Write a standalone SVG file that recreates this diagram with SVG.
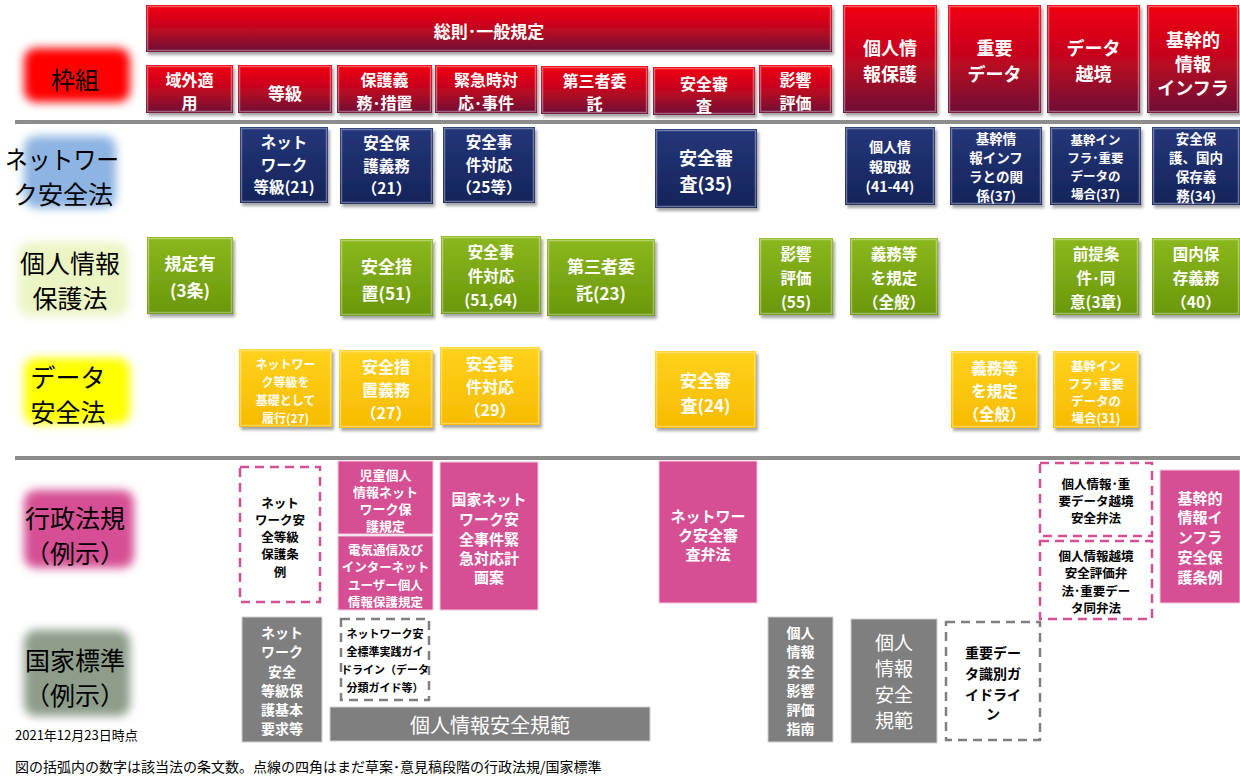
<svg xmlns="http://www.w3.org/2000/svg" width="1240" height="778" viewBox="0 0 1240 778">
<defs>
<linearGradient id="gRed" x1="0" y1="0" x2="0" y2="1"><stop offset="0" stop-color="#f2000f"/><stop offset="0.45" stop-color="#c8061e"/><stop offset="1" stop-color="#6e0c36"/></linearGradient>
<linearGradient id="gNavy" x1="0" y1="0" x2="0" y2="1"><stop offset="0" stop-color="#24367a"/><stop offset="1" stop-color="#15245a"/></linearGradient>
<linearGradient id="gGreen" x1="0" y1="0" x2="0" y2="1"><stop offset="0" stop-color="#8bb81d"/><stop offset="1" stop-color="#6a970a"/></linearGradient>
<linearGradient id="gYellow" x1="0" y1="0" x2="0" y2="1"><stop offset="0" stop-color="#ffd21c"/><stop offset="1" stop-color="#f7bb00"/></linearGradient>
<filter id="ds" x="-10%" y="-10%" width="125%" height="125%"><feDropShadow dx="2" dy="3" stdDeviation="1.5" flood-color="#000" flood-opacity="0.35"/></filter>
<filter id="glow" x="-40%" y="-40%" width="180%" height="180%"><feGaussianBlur stdDeviation="5"/></filter>
<style>
.red{fill:url(#gRed);filter:url(#ds)}
.navy{fill:url(#gNavy);filter:url(#ds)}
.green{fill:url(#gGreen);filter:url(#ds)}
.yellow{fill:url(#gYellow);filter:url(#ds)}
.pink{fill:#d64f94;stroke:#f4c9de;stroke-width:1}
.gray{fill:#7f7f7f;stroke:#d0d0d0;stroke-width:1}
.dp{fill:#fff;stroke:#d64f94;stroke-width:2.5;stroke-dasharray:9 6}
.dg{fill:#fff;stroke:#7f7f7f;stroke-width:2.5;stroke-dasharray:9 6}
.hl{fill:none;stroke:#fff;stroke-opacity:0.35;stroke-width:1.5}
.tw{font-family:"Noto Sans CJK JP","Noto Sans CJK SC",sans-serif;font-weight:700;fill:#fff;text-anchor:middle;dominant-baseline:central}
.tb{font-family:"Noto Sans CJK JP","Noto Sans CJK SC",sans-serif;font-weight:700;fill:#000;text-anchor:middle;dominant-baseline:central}
.tn{font-family:"Noto Sans CJK JP","Noto Sans CJK SC",sans-serif;font-weight:400;fill:#fff;text-anchor:middle;dominant-baseline:central}
.lbl{font-family:"Noto Sans CJK JP","Noto Sans CJK SC",sans-serif;font-weight:400;fill:#000;text-anchor:middle;dominant-baseline:central;font-size:25px}
.note{font-family:"Noto Sans CJK JP","Noto Sans CJK SC",sans-serif;font-weight:400;fill:#000}
.sep{stroke:#8c8c8c;stroke-width:4}
</style>
</defs>
<rect width="1240" height="778" fill="#fff"/>

<!-- row labels -->
<g id="label-frame"><rect x="24" y="48" width="106" height="54" rx="12" fill="#ff0000" filter="url(#glow)"/><text class="lbl" x="75" y="78" style="font-size:24px">枠組</text></g>
<g id="label-net"><rect x="24" y="136" width="92" height="72" rx="12" fill="#8db4e2" filter="url(#glow)"/><text class="lbl"><tspan x="62" y="158" textLength="114" lengthAdjust="spacingAndGlyphs">ネットワー</tspan><tspan x="63" y="193">ク安全法</tspan></text></g>
<g id="label-pi"><rect x="18" y="242" width="110" height="74" rx="12" fill="#ebf5c4" filter="url(#glow)"/><text class="lbl"><tspan x="70" y="262">個人情報</tspan><tspan x="70" y="297">保護法</tspan></text></g>
<g id="label-data"><rect x="24" y="358" width="106" height="66" rx="12" fill="#ffff00" filter="url(#glow)"/><text class="lbl"><tspan x="68" y="376">データ</tspan><tspan x="68" y="411">安全法</tspan></text></g>
<g id="label-admin"><rect x="24" y="490" width="110" height="78" rx="12" fill="#d64f94" filter="url(#glow)"/><text class="lbl"><tspan x="75" y="517">行政法規</tspan><tspan x="75" y="552">（例示）</tspan></text></g>
<g id="label-std"><rect x="24" y="630" width="106" height="86" rx="12" fill="#8d9d8a" filter="url(#glow)"/><text class="lbl"><tspan x="75" y="659">国家標準</tspan><tspan x="75" y="694">（例示）</tspan></text></g>

<!-- separators -->
<g id="connectors">
<line class="sep" x1="15" y1="122" x2="1240" y2="122"/>
<line class="sep" x1="15" y1="458" x2="1240" y2="458"/>
</g>

<!-- header row -->
<g id="h-general"><rect class="red" x="146" y="5" width="686" height="47"/><rect class="hl" x="147.5" y="6.5" width="683" height="44"/><text class="tw" x="489" y="30" font-size="17">総則･一般規定</text></g>
<g id="h-extra"><rect class="red" x="146" y="65" width="87" height="48"/><rect class="hl" x="147.5" y="66.5" width="84" height="45"/><text class="tw" font-size="16"><tspan x="189.5" y="79">域外適</tspan><tspan x="189.5" y="102">用</tspan></text></g>
<g id="h-grade"><rect class="red" x="238" y="65" width="94" height="48"/><rect class="hl" x="239.5" y="66.5" width="91" height="45"/><text class="tw" x="285" y="92" font-size="17">等級</text></g>
<g id="h-protect"><rect class="red" x="337" y="65" width="95" height="48"/><rect class="hl" x="338.5" y="66.5" width="92" height="45"/><text class="tw" font-size="16"><tspan x="384.5" y="79">保護義</tspan><tspan x="384.5" y="102">務･措置</tspan></text></g>
<g id="h-emerg"><rect class="red" x="435" y="65" width="102" height="48"/><rect class="hl" x="436.5" y="66.5" width="99" height="45"/><text class="tw" font-size="16"><tspan x="486" y="79">緊急時対</tspan><tspan x="486" y="102">応･事件</tspan></text></g>
<g id="h-third"><rect class="red" x="541" y="66" width="107" height="48"/><rect class="hl" x="542.5" y="67.5" width="104" height="45"/><text class="tw" font-size="16"><tspan x="594.5" y="80">第三者委</tspan><tspan x="594.5" y="103">託</tspan></text></g>
<g id="h-review"><rect class="red" x="653" y="67" width="102" height="48"/><rect class="hl" x="654.5" y="68.5" width="99" height="45"/><text class="tw" font-size="16"><tspan x="704" y="83">安全審</tspan><tspan x="704" y="105">査</tspan></text></g>
<g id="h-impact"><rect class="red" x="759" y="65" width="73" height="48"/><rect class="hl" x="760.5" y="66.5" width="70" height="45"/><text class="tw" font-size="16"><tspan x="795.5" y="79">影響</tspan><tspan x="795.5" y="102">評価</tspan></text></g>
<g id="h-pi"><rect class="red" x="843" y="5" width="94" height="108"/><rect class="hl" x="844.5" y="6.5" width="91" height="105"/><text class="tw" font-size="18"><tspan x="890" y="47">個人情</tspan><tspan x="890" y="73">報保護</tspan></text></g>
<g id="h-important"><rect class="red" x="948" y="5" width="93" height="108"/><rect class="hl" x="949.5" y="6.5" width="90" height="105"/><text class="tw" font-size="18"><tspan x="994.5" y="47">重要</tspan><tspan x="994.5" y="73">データ</tspan></text></g>
<g id="h-cross"><rect class="red" x="1047" y="5" width="93" height="108"/><rect class="hl" x="1048.5" y="6.5" width="90" height="105"/><text class="tw" font-size="18"><tspan x="1093.5" y="47">データ</tspan><tspan x="1093.5" y="73">越境</tspan></text></g>
<g id="h-infra"><rect class="red" x="1147" y="5" width="92" height="108"/><rect class="hl" x="1148.5" y="6.5" width="89" height="105"/><text class="tw" font-size="18"><tspan x="1193" y="39">基幹的</tspan><tspan x="1193" y="63">情報</tspan><tspan x="1193" y="87">インフラ</tspan></text></g>

<!-- network security law -->
<g id="n-grade"><rect class="navy" x="240" y="127" width="88" height="76"/><rect class="hl" x="241.5" y="128.5" width="85" height="73"/><text class="tw" font-size="15.5"><tspan x="284" y="141">ネット</tspan><tspan x="284" y="163.5">ワーク</tspan><tspan x="284" y="186">等級(21)</tspan></text></g>
<g id="n-protect"><rect class="navy" x="340" y="128" width="93" height="76"/><rect class="hl" x="341.5" y="129.5" width="90" height="73"/><text class="tw" font-size="15.5"><tspan x="386.5" y="142">安全保</tspan><tspan x="386.5" y="164.5">護義務</tspan><tspan x="386.5" y="187">（21）</tspan></text></g>
<g id="n-incident"><rect class="navy" x="443" y="127" width="92" height="76"/><rect class="hl" x="444.5" y="128.5" width="89" height="73"/><text class="tw" font-size="15.5"><tspan x="489" y="141">安全事</tspan><tspan x="489" y="163.5">件対応</tspan><tspan x="489" y="186">（25等）</tspan></text></g>
<g id="n-review"><rect class="navy" x="655" y="129" width="102" height="79"/><rect class="hl" x="656.5" y="130.5" width="99" height="76"/><text class="tw" font-size="18"><tspan x="706" y="157">安全審</tspan><tspan x="706" y="183">査(35)</tspan></text></g>
<g id="n-pi"><rect class="navy" x="845" y="127" width="90" height="78"/><rect class="hl" x="846.5" y="128.5" width="87" height="75"/><text class="tw" font-size="14"><tspan x="890" y="146">個人情</tspan><tspan x="890" y="166">報取扱</tspan><tspan x="890" y="186">(41-44)</tspan></text></g>
<g id="n-infra"><rect class="navy" x="950" y="127" width="92" height="78"/><rect class="hl" x="951.5" y="128.5" width="89" height="75"/><text class="tw" font-size="13.5"><tspan x="996" y="138">基幹情</tspan><tspan x="996" y="157">報インフ</tspan><tspan x="996" y="176">ラとの関</tspan><tspan x="996" y="195">係(37)</tspan></text></g>
<g id="n-cross"><rect class="navy" x="1050" y="127" width="91" height="78"/><rect class="hl" x="1051.5" y="128.5" width="88" height="75"/><text class="tw" font-size="12.5"><tspan x="1095.5" y="139">基幹イン</tspan><tspan x="1095.5" y="157">フラ･重要</tspan><tspan x="1095.5" y="175">データの</tspan><tspan x="1095.5" y="193">場合(37)</tspan></text></g>
<g id="n-store"><rect class="navy" x="1152" y="127" width="88" height="78"/><rect class="hl" x="1153.5" y="128.5" width="85" height="75"/><text class="tw" font-size="13.5"><tspan x="1196" y="138">安全保</tspan><tspan x="1196" y="157">護、国内</tspan><tspan x="1196" y="176">保存義</tspan><tspan x="1196" y="195">務(34)</tspan></text></g>

<!-- personal information protection law -->
<g id="p-extra"><rect class="green" x="147" y="237" width="86" height="77"/><rect class="hl" x="148.5" y="238.5" width="83" height="74"/><text class="tw" font-size="17"><tspan x="190" y="262">規定有</tspan><tspan x="190" y="289">(3条)</tspan></text></g>
<g id="p-measure"><rect class="green" x="340" y="239" width="93" height="77"/><rect class="hl" x="341.5" y="240.5" width="90" height="74"/><text class="tw" font-size="17"><tspan x="386.5" y="265">安全措</tspan><tspan x="386.5" y="292">置(51)</tspan></text></g>
<g id="p-incident"><rect class="green" x="441" y="236" width="100" height="78"/><rect class="hl" x="442.5" y="237.5" width="97" height="75"/><text class="tw" font-size="15.5"><tspan x="491" y="251">安全事</tspan><tspan x="491" y="275">件対応</tspan><tspan x="491" y="299">(51,64)</tspan></text></g>
<g id="p-third"><rect class="green" x="547" y="239" width="108" height="77"/><rect class="hl" x="548.5" y="240.5" width="105" height="74"/><text class="tw" font-size="17"><tspan x="601" y="265">第三者委</tspan><tspan x="601" y="292">託(23)</tspan></text></g>
<g id="p-impact"><rect class="green" x="759" y="238" width="74" height="77"/><rect class="hl" x="760.5" y="239.5" width="71" height="74"/><text class="tw" font-size="15.5"><tspan x="796" y="253">影響</tspan><tspan x="796" y="277">評価</tspan><tspan x="796" y="301">(55)</tspan></text></g>
<g id="p-important"><rect class="green" x="850" y="238" width="88" height="77"/><rect class="hl" x="851.5" y="239.5" width="85" height="74"/><text class="tw" font-size="15.5"><tspan x="894" y="253">義務等</tspan><tspan x="894" y="277">を規定</tspan><tspan x="894" y="301">（全般）</tspan></text></g>
<g id="p-cross"><rect class="green" x="1053" y="238" width="86" height="77"/><rect class="hl" x="1054.5" y="239.5" width="83" height="74"/><text class="tw" font-size="15.5"><tspan x="1096" y="253">前提条</tspan><tspan x="1096" y="277">件･同</tspan><tspan x="1096" y="301">意(3章)</tspan></text></g>
<g id="p-store"><rect class="green" x="1152" y="238" width="88" height="77"/><rect class="hl" x="1153.5" y="239.5" width="85" height="74"/><text class="tw" font-size="15.5"><tspan x="1196" y="253">国内保</tspan><tspan x="1196" y="277">存義務</tspan><tspan x="1196" y="301">（40）</tspan></text></g>

<!-- data security law -->
<g id="d-grade"><rect class="yellow" x="239" y="349" width="93" height="78"/><rect class="hl" x="240.5" y="350.5" width="90" height="75"/><text class="tw" font-size="12"><tspan x="285.5" y="363">ネットワー</tspan><tspan x="285.5" y="381">ク等級を</tspan><tspan x="285.5" y="399">基礎として</tspan><tspan x="285.5" y="417">履行(27)</tspan></text></g>
<g id="d-measure"><rect class="yellow" x="339" y="350" width="94" height="78"/><rect class="hl" x="340.5" y="351.5" width="91" height="75"/><text class="tw" font-size="16"><tspan x="386" y="366">安全措</tspan><tspan x="386" y="389">置義務</tspan><tspan x="386" y="412">（27）</tspan></text></g>
<g id="d-incident"><rect class="yellow" x="440" y="347" width="100" height="78"/><rect class="hl" x="441.5" y="348.5" width="97" height="75"/><text class="tw" font-size="16"><tspan x="490" y="363">安全事</tspan><tspan x="490" y="386">件対応</tspan><tspan x="490" y="409">（29）</tspan></text></g>
<g id="d-review"><rect class="yellow" x="655" y="351" width="101" height="77"/><rect class="hl" x="656.5" y="352.5" width="98" height="74"/><text class="tw" font-size="17"><tspan x="705.5" y="379">安全審</tspan><tspan x="705.5" y="404">査(24)</tspan></text></g>
<g id="d-important"><rect class="yellow" x="951" y="351" width="87" height="77"/><rect class="hl" x="952.5" y="352.5" width="84" height="74"/><text class="tw" font-size="15.5"><tspan x="994.5" y="367">義務等</tspan><tspan x="994.5" y="390">を規定</tspan><tspan x="994.5" y="413">（全般）</tspan></text></g>
<g id="d-cross"><rect class="yellow" x="1053" y="351" width="86" height="77"/><rect class="hl" x="1054.5" y="352.5" width="83" height="74"/><text class="tw" font-size="12.5"><tspan x="1096" y="365">基幹イン</tspan><tspan x="1096" y="383">フラ･重要</tspan><tspan x="1096" y="400">データの</tspan><tspan x="1096" y="417">場合(31)</tspan></text></g>

<!-- administrative regulations -->
<g id="a-grade"><rect class="dp" x="240" y="467" width="80" height="135"/><text class="tb" font-size="12.5"><tspan x="280" y="502">ネット</tspan><tspan x="280" y="519">ワーク安</tspan><tspan x="280" y="536">全等級</tspan><tspan x="280" y="553">保護条</tspan><tspan x="280" y="571">例</tspan></text></g>
<g id="a-child"><rect class="pink" x="338" y="461" width="95" height="73"/><text class="tw" font-size="13"><tspan x="385.5" y="474">児童個人</tspan><tspan x="385.5" y="491">情報ネット</tspan><tspan x="385.5" y="508">ワーク保</tspan><tspan x="385.5" y="525">護規定</tspan></text></g>
<g id="a-telecom"><rect class="pink" x="338" y="536" width="95" height="74"/><text class="tw" font-size="12.5"><tspan x="385.5" y="549">電気通信及び</tspan><tspan x="385.5" y="566">インターネット</tspan><tspan x="385.5" y="584">ユーザー個人</tspan><tspan x="385.5" y="601">情報保護規定</tspan></text></g>
<g id="a-emerg"><rect class="pink" x="440" y="462" width="98" height="148"/><text class="tw" font-size="15"><tspan x="489" y="498">国家ネット</tspan><tspan x="489" y="518">ワーク安</tspan><tspan x="489" y="538">全事件緊</tspan><tspan x="489" y="557">急対応計</tspan><tspan x="489" y="576">画案</tspan></text></g>
<g id="a-review"><rect class="pink" x="659" y="461" width="98" height="142"/><text class="tw" font-size="15"><tspan x="708" y="515">ネットワー</tspan><tspan x="708" y="534">ク安全審</tspan><tspan x="708" y="553">査弁法</tspan></text></g>
<g id="a-cross1"><rect class="dp" x="1040" y="463" width="112" height="73"/><text class="tb" font-size="12.5"><tspan x="1096" y="483">個人情報･重</tspan><tspan x="1096" y="500">要データ越境</tspan><tspan x="1096" y="517">安全弁法</tspan></text></g>
<g id="a-cross2"><rect class="dp" x="1040" y="541" width="112" height="78"/><text class="tb" font-size="12.5"><tspan x="1096" y="555">個人情報越境</tspan><tspan x="1096" y="572">安全評価弁</tspan><tspan x="1096" y="590">法･重要デー</tspan><tspan x="1096" y="607">タ同弁法</tspan></text></g>
<g id="a-infra"><rect class="pink" x="1160" y="470" width="80" height="133"/><text class="tw" font-size="15"><tspan x="1200" y="497">基幹的</tspan><tspan x="1200" y="516">情報イ</tspan><tspan x="1200" y="536">ンフラ</tspan><tspan x="1200" y="556">安全保</tspan><tspan x="1200" y="576">護条例</tspan></text></g>

<!-- national standards -->
<g id="s-grade"><rect class="gray" x="242" y="617" width="80" height="125"/><text class="tw" font-size="14"><tspan x="282" y="632">ネット</tspan><tspan x="282" y="651">ワーク</tspan><tspan x="282" y="671">安全</tspan><tspan x="282" y="690">等級保</tspan><tspan x="282" y="709">護基本</tspan><tspan x="282" y="728">要求等</tspan></text></g>
<g id="s-guide"><rect class="dg" x="341" y="619" width="88" height="81"/><text class="tb" font-size="11"><tspan x="385" y="633">ネットワーク安</tspan><tspan x="385" y="651">全標準実践ガイ</tspan><tspan x="385" y="669">ドライン（データ</tspan><tspan x="385" y="687">分類ガイド等）</tspan></text></g>
<g id="s-spec-bar"><rect class="gray" x="330" y="707" width="320" height="34"/><text class="tn" x="490" y="724" font-size="20">個人情報安全規範</text></g>
<g id="s-impact"><rect class="gray" x="768" y="617" width="65" height="125"/><text class="tw" font-size="14"><tspan x="800.5" y="632">個人</tspan><tspan x="800.5" y="651">情報</tspan><tspan x="800.5" y="671">安全</tspan><tspan x="800.5" y="690">影響</tspan><tspan x="800.5" y="709">評価</tspan><tspan x="800.5" y="728">指南</tspan></text></g>
<g id="s-spec"><rect class="gray" x="851" y="619" width="86" height="124"/><text class="tn" font-size="19"><tspan x="894" y="641">個人</tspan><tspan x="894" y="667">情報</tspan><tspan x="894" y="693">安全</tspan><tspan x="894" y="719">規範</tspan></text></g>
<g id="s-important"><rect class="dg" x="946" y="622" width="94" height="118"/><text class="tb" font-size="14"><tspan x="993" y="652">重要デー</tspan><tspan x="993" y="673">タ識別ガ</tspan><tspan x="993" y="694">イドライ</tspan><tspan x="993" y="713">ン</tspan></text></g>

<!-- footnotes -->
<text class="note" x="15" y="740" font-size="13">2021年12月23日時点</text>
<text class="note" x="15" y="772" font-size="14">図の括弧内の数字は該当法の条文数。点線の四角はまだ草案･意見稿段階の行政法規/国家標準</text>
</svg>
